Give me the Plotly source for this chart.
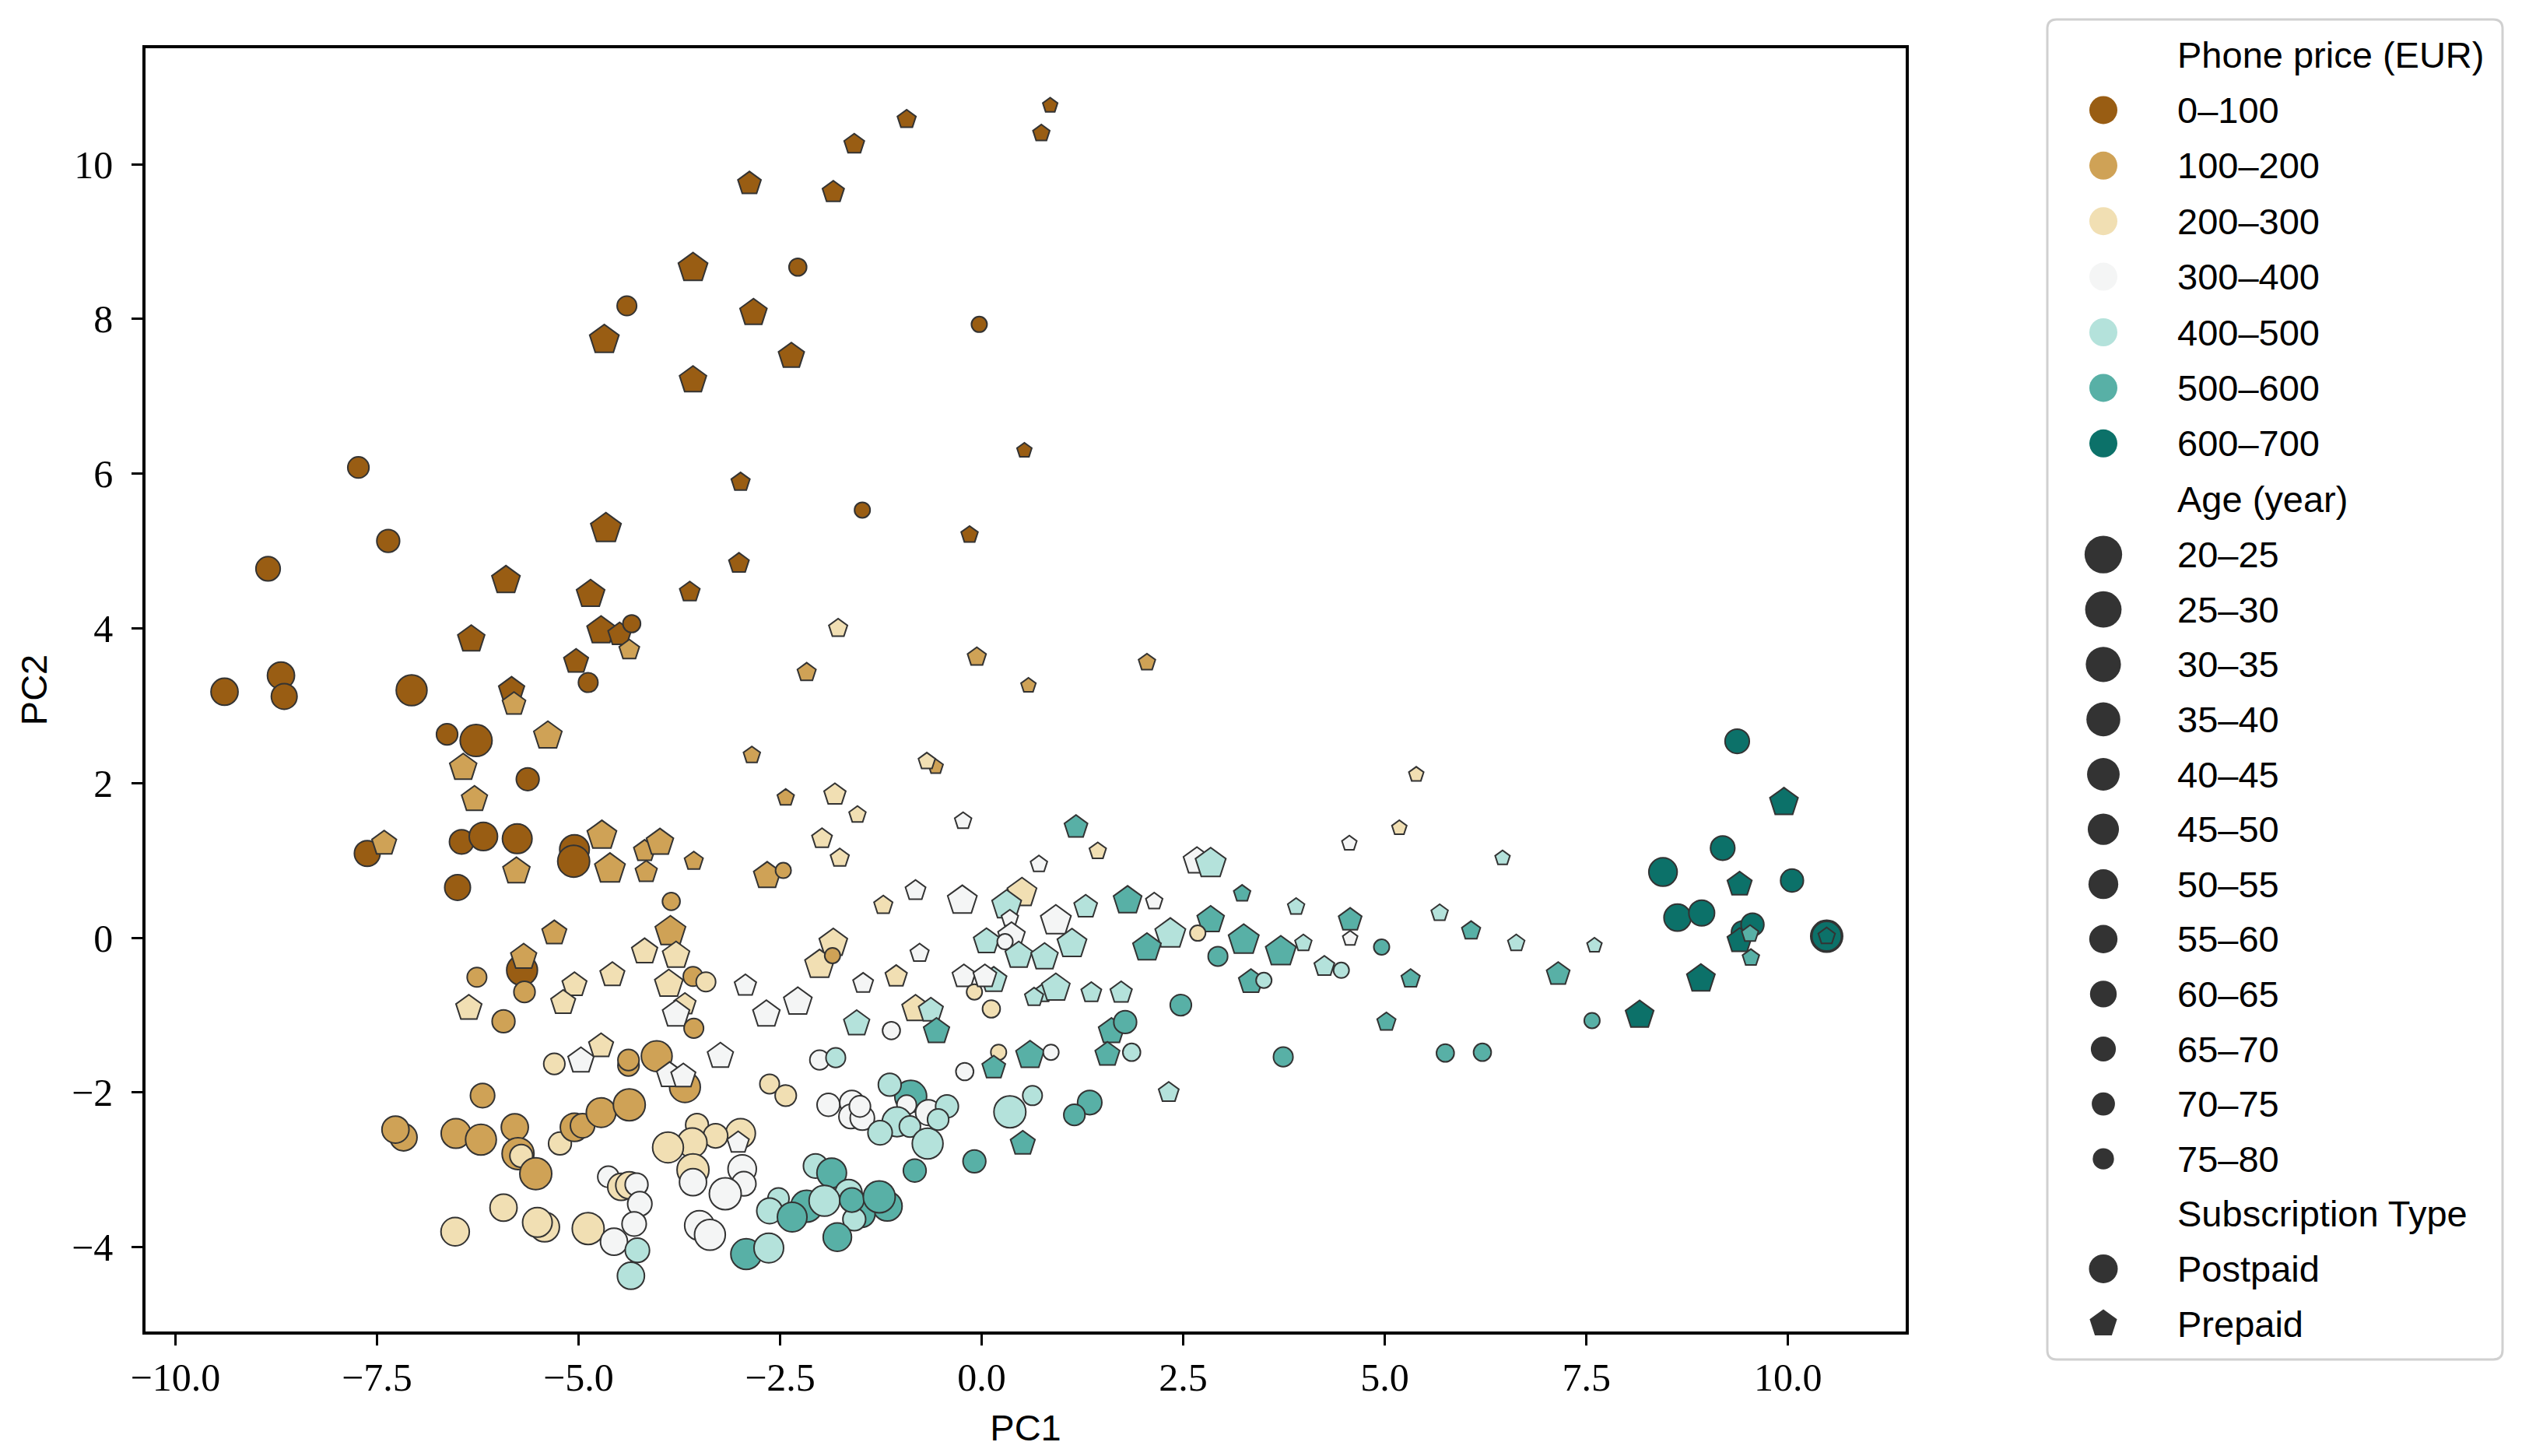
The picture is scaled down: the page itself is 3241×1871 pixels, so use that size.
import math

import plotly.graph_objects as go

# ── Category labels and palette ──────────────────────────────────────────────
PRICE_BANDS = ["0–100", "100–200", "200–300", "300–400", "400–500", "500–600", "600–700"]
PRICE_COLORS = ["#995d13", "#cfa256", "#f1dfb3", "#f4f5f5", "#b4e2db", "#58b0a6", "#0c7169"]
AGE_BANDS = ["20–25", "25–30", "30–35", "35–40", "40–45", "45–50",
             "50–55", "55–60", "60–65", "65–70", "70–75", "75–80"]
SUBSCRIPTIONS = ["Postpaid", "Prepaid"]

# ── Data; indices point into the label lists above ──
PC1 = [
    0.85, 0.74, -0.93, -1.58, -2.88, -1.84, -2.28, -3.58, -2.83, -2.36,
    -0.03, -3.58, 0.53, -2.99, -1.48, -0.15, -3.01, -3.62, -1.78, -0.06,
    -2.17, 2.05, 0.58, -4.40, -4.68, -7.73, -7.36, -8.85, -4.66, -5.90,
    -4.85, -6.33, -4.72, -4.49, -4.34, -4.37, -5.03, -4.88, -9.39, -8.69,
    -8.65, -7.07, -6.63, -6.27, -5.83, -5.80, -5.38, -6.43, -5.63, -6.29,
    -7.62, -7.41, -6.45, -6.18, -5.76, -5.05, -5.06, -4.71, -4.61, -4.18,
    -4.16, -3.99, -5.77, -6.50, -5.30, -5.70, -5.68, -6.26, -4.58, -4.18,
    -2.85, -0.57, -0.68, -2.43, -1.82, -1.54, -0.23, -1.98, -1.76, -3.57,
    -2.66, -2.46, -3.85, -3.86, -0.82, -0.24, -1.22, -1.84, -2.01, -1.85,
    -0.77, -3.79, -3.58, -1.06, -1.47, -0.22, -0.09, 0.06, 1.17, 1.44,
    0.71, 2.67, 2.84, 0.50, 0.31, 0.35, 0.92, 1.29, 1.81, 2.14,
    3.23, 3.90, 2.84, 2.34, 2.68, 2.05, 3.25, 3.71, 3.99, 2.93,
    3.34, 3.50, 0.37, 0.29, 0.46, 0.78, 1.12, 0.15, 0.04, 0.76,
    0.65, 0.92, 1.36, 1.73, 2.47, 0.12, 1.61, 1.78, 1.56, 1.86,
    0.21, 0.15, 0.60, 0.86, 3.74, 2.32, 0.35, 0.63, 1.34, 1.15,
    0.51, -0.09, -3.88, -3.42, -3.68, -3.79, -3.57, -2.93, -2.28, -2.67,
    -3.24, -4.03, -3.68, -3.87, -3.70, -2.63, -2.43, -1.55, -1.12, -0.82,
    -0.63, -0.56, -2.01, -1.81, -0.21, -1.90, -1.61, -1.62, -1.48, -1.51,
    -0.88, -1.14, -0.66, -0.93, -0.43, -1.05, -0.54, -0.89, -1.26, -0.67,
    -0.83, -3.53, -2.99, -3.30, -3.59, -3.89, -3.02, -3.58, -2.97, -2.95,
    -3.58, -3.18, -3.50, -3.37, -2.52, -2.63, -2.17, -2.35, -2.06, -1.86,
    -1.65, -1.17, -1.49, -1.58, -1.95, -1.61, -1.27, -1.79, -2.92, -2.64,
    -5.67, -6.36, -5.93, -5.05, -5.19, -5.30, -4.97, -4.72, -4.38, -4.38,
    -6.19, -7.17, -7.27, -6.52, -6.21, -5.79, -5.75, -5.71, -5.53, -5.23,
    -5.05, -4.95, -4.72, -4.37, -5.93, -6.53, -5.42, -5.51, -4.88, -4.63,
    -4.47, -4.37, -4.28, -4.24, -4.31, -4.56, -4.27, -4.35, 9.37, 9.95,
    9.19, 8.45, 9.40, 10.05, 8.63, 8.93, 9.44, 9.56, 9.40, 9.53,
    9.54, 10.48, 10.48, 10.48, 8.92, 8.16, 7.57, 7.15, 7.60, 6.63,
    6.46, 6.07, 5.68, 5.39, 5.18, 4.56, 4.57, 4.57, 4.96, 4.25,
    4.46, 5.32, 5.02, 5.75, 6.21,
]
PC2 = [
    10.76, 10.40, 10.58, 10.26, 9.75, 9.64, 8.67, 8.66, 8.08, 7.52,
    7.93, 7.21, 6.30, 5.89, 5.53, 5.21, 4.84, 4.47, 4.00, 3.63,
    3.43, 3.56, 3.26, 8.17, 7.73, 6.08, 5.13, 4.77, 5.29, 4.62,
    4.44, 3.86, 3.97, 3.92, 4.06, 3.72, 3.57, 3.30, 3.18, 3.39,
    3.12, 3.20, 2.63, 2.55, 3.20, 3.02, 2.61, 2.20, 2.05, 1.79,
    1.09, 1.22, 1.24, 1.31, 1.28, 1.14, 0.99, 1.32, 0.89, 1.12,
    0.85, 1.23, 0.86, 0.65, 0.06, -0.42, -0.25, -0.51, -0.48, -0.18,
    2.36, 2.21, 2.28, 1.81, 1.85, 1.59, 1.51, 1.28, 1.03, 0.99,
    0.80, 0.87, 0.47, 0.08, 0.61, 0.48, 0.42, -0.07, -0.35, -0.23,
    -0.20, -0.23, -0.50, -0.50, -0.59, -0.50, -0.70, -0.05, 1.43, 1.12,
    0.95, 0.99, 0.96, 0.58, 0.42, 0.25, 0.22, 0.40, 0.48, 0.47,
    0.57, 0.40, 0.23, 0.05, 0.06, -0.13, -0.03, -0.18, -0.07, -0.24,
    -0.57, -0.55, 0.02, -0.05, -0.23, -0.25, -0.08, -0.55, -0.50, -0.72,
    -0.77, -0.65, -0.71, -0.71, -0.87, -0.92, -1.21, -1.09, -1.51, -1.48,
    -1.48, -1.68, -1.52, -1.48, -1.54, -2.00, -2.25, -2.04, -2.13, -2.29,
    -2.66, -2.89, -0.60, -0.57, -0.86, -0.99, -1.17, -0.62, -0.83, -0.99,
    -1.53, -1.53, -1.93, -1.78, -1.79, -1.89, -2.04, -1.11, -1.20, -0.92,
    -0.94, -1.21, -1.58, -1.55, -1.73, -2.16, -2.13, -2.31, -2.33, -2.18,
    -2.05, -1.90, -2.26, -2.16, -2.18, -2.38, -2.35, -2.44, -2.52, -2.66,
    -3.01, -2.42, -2.53, -2.56, -2.65, -2.71, -2.65, -3.00, -2.99, -3.18,
    -3.16, -3.31, -3.72, -3.84, -3.37, -3.53, -3.47, -3.61, -2.95, -3.04,
    -3.30, -3.47, -3.57, -3.64, -3.40, -3.39, -3.35, -3.87, -4.09, -4.01,
    -0.70, -0.91, -1.08, -0.61, -0.84, -1.63, -1.59, -1.40, -1.65, -1.58,
    -2.04, -2.58, -2.48, -2.53, -2.61, -2.45, -2.79, -2.82, -3.05, -2.66,
    -2.45, -2.43, -2.26, -2.16, -3.49, -3.80, -3.74, -3.68, -3.76, -3.09,
    -3.22, -3.20, -3.19, -3.44, -3.70, -3.93, -4.04, -4.37, 2.54, 1.75,
    1.16, 0.85, 0.69, 0.74, 0.26, 0.32, 0.07, 0.17, -0.04, 0.05,
    -0.26, 0.02, 0.02, 0.02, -0.53, -1.00, -1.07, -0.47, -0.10, -0.07,
    1.03, 0.09, 0.32, 2.11, 1.42, 1.22, 0.23, -0.01, -0.12, -0.37,
    -0.42, -0.53, -1.09, -1.49, -1.48,
]
PRICE = [
    0, 0, 0, 0, 0, 0, 0, 0, 0, 0,  0, 0, 0, 0, 0, 0, 0, 0, 2, 1,
    1, 1, 1, 0, 0, 0, 0, 0, 0, 0,  0, 0, 0, 0, 0, 1, 0, 0, 0, 0,
    0, 0, 0, 0, 0, 1, 1, 1, 0, 1,  0, 1, 0, 0, 0, 0, 0, 1, 1, 1,
    1, 1, 1, 0, 1, 0, 1, 1, 2, 2,  1, 1, 2, 1, 2, 2, 3, 2, 2, 1,
    1, 1, 1, 1, 3, 3, 2, 2, 2, 1,  3, 2, 1, 2, 3, 3, 2, 4, 5, 2,
    3, 3, 4, 2, 4, 3, 3, 4, 5, 3,  5, 4, 5, 4, 2, 5, 5, 5, 4, 5,
    5, 4, 3, 3, 4, 4, 4, 4, 3, 4,  4, 4, 4, 4, 5, 2, 5, 5, 5, 4,
    2, 5, 5, 3, 5, 4, 4, 4, 5, 5,  5, 5, 2, 2, 2, 3, 1, 3, 3, 3,
    3, 1, 1, 3, 3, 2, 2, 4, 3, 2,  4, 5, 3, 4, 3, 3, 3, 3, 3, 3,
    5, 4, 3, 3, 4, 4, 4, 4, 4, 4,  5, 2, 2, 2, 2, 2, 3, 2, 3, 3,
    3, 3, 3, 3, 4, 4, 5, 5, 4, 5,  4, 5, 5, 4, 4, 5, 5, 5, 5, 4,
    1, 2, 1, 2, 2, 2, 3, 2, 1, 1,  1, 1, 1, 1, 1, 1, 1, 2, 1, 2,
    1, 1, 1, 1, 2, 2, 2, 2, 2, 3,  2, 2, 3, 3, 3, 3, 4, 4, 6, 6,
    6, 6, 6, 6, 6, 6, 6, 6, 6, 5,  5, 6, 6, 6, 6, 6, 5, 5, 4, 4,
    4, 5, 4, 2, 2, 3, 5, 3, 5, 4,  4, 5, 5, 5, 5,
]
AGE = [
    11, 10, 9, 8, 6, 7, 10, 1, 3, 4,  11, 3, 11, 9, 11, 10, 8, 8, 9, 9,
    9, 10, 11, 9, 1, 8, 7, 6, 0, 2,  2, 3, 2, 6, 10, 8, 5, 9, 4, 4,
    5, 1, 8, 0, 4, 6, 2, 3, 7, 4,  5, 5, 6, 3, 2, 2, 0, 1, 0, 7,
    7, 3, 3, 5, 5, 1, 4, 9, 5, 4,  10, 11, 10, 10, 7, 10, 10, 8, 9, 9,
    3, 11, 10, 0, 8, 1, 9, 2, 1, 11,  9, 3, 9, 7, 8, 6, 11, 4, 6, 10,
    10, 3, 0, 1, 1, 10, 0, 6, 2, 10,  10, 10, 3, 0, 11, 2, 0, 0, 10, 9,
    5, 11, 3, 11, 3, 3, 1, 4, 6, 9,  9, 2, 8, 7, 8, 10, 4, 7, 5, 10,
    11, 6, 2, 11, 9, 8, 0, 9, 6, 8,  5, 7, 2, 9, 7, 3, 9, 7, 2, 3,
    4, 1, 1, 4, 5, 9, 8, 4, 10, 3,  5, 4, 9, 9, 10, 7, 6, 6, 6, 8,
    0, 7, 5, 9, 7, 2, 8, 8, 6, 1,  7, 7, 2, 6, 2, 1, 7, 0, 3, 6,
    4, 0, 2, 1, 8, 5, 0, 2, 6, 2,  4, 2, 4, 7, 1, 6, 0, 3, 1, 2,
    8, 4, 7, 5, 5, 8, 4, 5, 8, 8,  6, 4, 4, 2, 1, 4, 0, 7, 0, 7,
    3, 6, 2, 0, 4, 3, 2, 2, 0, 8,  4, 4, 7, 6, 6, 4, 6, 4, 6, 2,
    6, 3, 5, 7, 4, 5, 7, 7, 5, 10,  10, 0, 2, 10, 2, 2, 11, 6, 11, 10,
    11, 9, 10, 11, 11, 11, 6, 11, 11, 8,  11, 9, 9, 10, 10,
]
SUBSCRIPTION = [
    1, 1, 1, 1, 1, 1, 0, 1, 1, 1,  0, 1, 1, 1, 0, 1, 1, 1, 1, 1,
    1, 1, 1, 0, 1, 0, 0, 0, 1, 1,  1, 1, 1, 1, 0, 1, 1, 0, 0, 0,
    0, 0, 0, 0, 1, 1, 1, 1, 0, 1,  0, 1, 0, 0, 0, 0, 0, 1, 1, 1,
    1, 1, 1, 0, 1, 0, 1, 0, 1, 1,  1, 1, 1, 1, 1, 1, 1, 1, 1, 1,
    1, 0, 0, 1, 1, 1, 1, 1, 1, 0,  1, 1, 0, 1, 1, 1, 0, 1, 1, 1,
    1, 1, 1, 1, 1, 1, 1, 1, 1, 1,  1, 1, 1, 1, 0, 1, 1, 1, 1, 0,
    1, 0, 1, 0, 1, 1, 1, 1, 1, 1,  1, 1, 1, 1, 0, 0, 1, 0, 1, 0,
    0, 1, 1, 0, 0, 1, 0, 0, 0, 0,  1, 0, 1, 0, 1, 1, 0, 1, 1, 1,
    1, 0, 0, 1, 1, 0, 0, 1, 0, 1,  1, 1, 0, 0, 0, 0, 0, 0, 0, 0,
    0, 0, 0, 0, 0, 0, 0, 0, 0, 0,  0, 0, 0, 0, 0, 0, 1, 0, 0, 0,
    0, 0, 0, 0, 0, 0, 0, 0, 0, 0,  0, 0, 0, 0, 0, 0, 0, 0, 0, 0,
    0, 1, 0, 1, 1, 0, 1, 1, 0, 0,  0, 0, 0, 0, 0, 0, 0, 0, 0, 0,
    0, 0, 0, 0, 0, 0, 0, 0, 0, 0,  0, 0, 0, 0, 0, 0, 0, 0, 0, 1,
    0, 0, 1, 0, 0, 0, 0, 0, 1, 1,  1, 0, 0, 1, 1, 1, 0, 1, 1, 1,
    1, 1, 1, 1, 1, 1, 1, 1, 0, 1,  0, 1, 1, 0, 0,
]

X_TICKS = [-10.0, -7.5, -5.0, -2.5, 0.0, 2.5, 5.0, 7.5, 10.0]
Y_TICKS = [-4, -2, 0, 2, 4, 6, 8, 10]

# ── Layout constants (pixels on the 3241 x 1871 canvas) ──────────────────────
W, H = 3241, 1871
OFF = 8  # the page body adds an 8 px margin around the figure
AX_L, AX_R, AX_T, AX_B = 187 - OFF, 2449 - OFF, 62 - OFF, 1711 - OFF
LEG_L, LEG_R, LEG_T, LEG_B = 2631 - OFF, 3216 - OFF, 25 - OFF, 1747 - OFF
EDGE = 2.0
EDGE_COLOR = "#333333"
SYMBOLS = ["circle", "pentagon"]
SANS = "Liberation Sans"
SERIF = "Liberation Serif"
TEXT_SIZE = 47


def age_size(i, big, small):
    """Marker diameter for an age band: area shrinks linearly with the band index."""
    a0, a1 = big ** 2, small ** 2
    return math.sqrt(a0 + (a1 - a0) * i / (len(AGE_BANDS) - 1))


fig = go.Figure()

# main scatter, one trace so the drawing order follows the data order
fig.add_trace(
    go.Scatter(
        x=PC1,
        y=PC2,
        mode="markers",
        marker=dict(
            color=[PRICE_COLORS[p] for p in PRICE],
            symbol=[SYMBOLS[s] for s in SUBSCRIPTION],
            size=[age_size(a, 43.0, 22.0) - EDGE for a in AGE],
            line=dict(color=EDGE_COLOR, width=EDGE),
            opacity=1,
        ),
        showlegend=False,
        hoverinfo="skip",
    )
)

# ── Hand-built legend on its own small axes (px from the box's top-left) ────
ROW0, STEP_TOP, STEP_BOTTOM, SPLIT = 45, 71.4, 70.6, 9
MARK_X, TEXT_X = 72, 165

rows = [("Phone price (EUR)", None)]
rows += [(lbl, dict(color=c, symbol="circle", size=36)) for lbl, c in zip(PRICE_BANDS, PRICE_COLORS)]
rows += [("Age (year)", None)]
rows += [(lbl, dict(color=EDGE_COLOR, symbol="circle", size=age_size(i, 48.3, 27.3)))
         for i, lbl in enumerate(AGE_BANDS)]
rows += [("Subscription Type", None)]
rows += [(lbl, dict(color=EDGE_COLOR, symbol=SYMBOLS[i], size=37)) for i, lbl in enumerate(SUBSCRIPTIONS)]


def row_y(k):
    if k <= SPLIT:
        return ROW0 + STEP_TOP * k
    return ROW0 + STEP_TOP * SPLIT + STEP_BOTTOM * (k - SPLIT)


leg_x, leg_y, leg_c, leg_s, leg_sz = [], [], [], [], []
annotations = []
for k, (label, mk) in enumerate(rows):
    yk = row_y(k)
    if mk is not None:
        leg_x.append(MARK_X)
        leg_y.append(yk)
        leg_c.append(mk["color"])
        leg_s.append(mk["symbol"])
        leg_sz.append(mk["size"])
    annotations.append(
        dict(
            x=TEXT_X, y=yk, xref="x2", yref="y2", text=label, showarrow=False,
            xanchor="left", yanchor="middle",
            font=dict(family=SANS, size=TEXT_SIZE, color="black"),
        )
    )

fig.add_trace(
    go.Scatter(
        x=leg_x, y=leg_y, xaxis="x2", yaxis="y2", mode="markers",
        marker=dict(color=leg_c, symbol=leg_s, size=leg_sz, line=dict(width=0), opacity=1),
        showlegend=False, hoverinfo="skip",
    )
)


def rounded_box(x0, y0, x1, y1, r):
    px = lambda v: f"{v / W:.6f}"
    py = lambda v: f"{1 - v / H:.6f}"
    return (
        f"M {px(x0 + r)},{py(y0)} L {px(x1 - r)},{py(y0)} Q {px(x1)},{py(y0)} {px(x1)},{py(y0 + r)} "
        f"L {px(x1)},{py(y1 - r)} Q {px(x1)},{py(y1)} {px(x1 - r)},{py(y1)} "
        f"L {px(x0 + r)},{py(y1)} Q {px(x0)},{py(y1)} {px(x0)},{py(y1 - r)} "
        f"L {px(x0)},{py(y0 + r)} Q {px(x0)},{py(y0)} {px(x0 + r)},{py(y0)} Z"
    )


shapes = [
    dict(type="path", xref="paper", yref="paper", path=rounded_box(LEG_L, LEG_T, LEG_R, LEG_B, 12),
         line=dict(color="#d0d0d0", width=3), fillcolor="white", layer="below"),
]

axis_common = dict(
    showline=True, mirror=True, linecolor="black", linewidth=3.5,
    ticks="outside", ticklen=14, tickwidth=3.3, tickcolor="black",
    showgrid=False, zeroline=False, automargin=False,
    tickfont=dict(family=SERIF, size=50, color="black"),
)

fig.update_layout(
    width=W, height=H,
    margin=dict(l=0, r=0, t=0, b=0),
    template="none",
    paper_bgcolor="white",
    plot_bgcolor="rgba(0,0,0,0)",
    showlegend=False,
    xaxis=dict(
        axis_common, domain=[AX_L / W, AX_R / W], range=[-10.37, 11.46],
        tickvals=X_TICKS, tickformat=".1f", ticklabelstandoff=-2,
        title=dict(text="PC1", font=dict(family=SANS, size=TEXT_SIZE, color="black"), standoff=22),
    ),
    yaxis=dict(
        axis_common, domain=[1 - AX_B / H, 1 - AX_T / H], range=[-5.09, 11.5],
        tickvals=Y_TICKS, ticklabelstandoff=14,
        title=dict(text="PC2", font=dict(family=SANS, size=TEXT_SIZE, color="black"), standoff=18),
    ),
    xaxis2=dict(domain=[LEG_L / W, LEG_R / W], range=[0, LEG_R - LEG_L], visible=False,
                anchor="y2", fixedrange=True),
    yaxis2=dict(domain=[1 - LEG_B / H, 1 - LEG_T / H], range=[LEG_B - LEG_T, 0], visible=False,
                anchor="x2", fixedrange=True),
    annotations=annotations,
    shapes=shapes,
)

fig.write_html("out.html")
